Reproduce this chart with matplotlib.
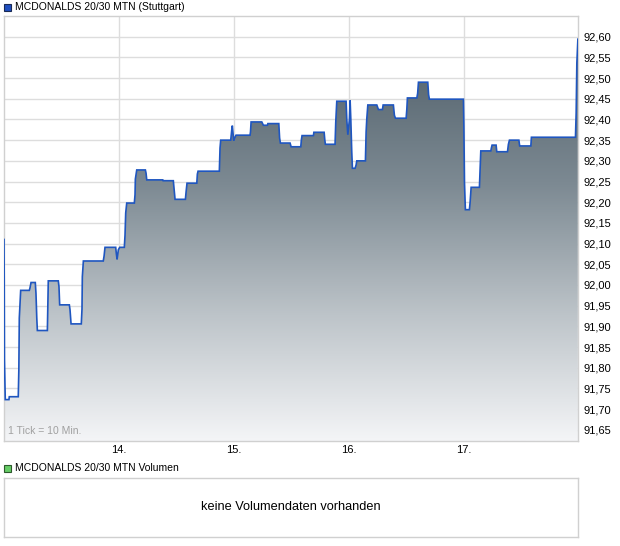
import numpy as np
import matplotlib
matplotlib.use("Agg")
from matplotlib import pyplot as plt
from matplotlib.colors import LinearSegmentedColormap
from matplotlib.patches import Rectangle

plt.rcParams['font.family'] = ['Liberation Sans', 'DejaVu Sans']

## price data (x in days of month, value in EUR) ---------
days = [13.000, 13.002, 13.004, 13.011, 13.043, 13.046, 13.124, 13.129, 13.133, 13.145,
        13.220, 13.226, 13.235, 13.272, 13.278, 13.285, 13.290, 13.377, 13.381, 13.385,
        13.472, 13.478, 13.484, 13.568, 13.574, 13.583, 13.672, 13.678, 13.681, 13.690,
        13.863, 13.870, 13.878, 13.971, 13.977, 13.983, 13.994, 14.006, 14.046, 14.052,
        14.058, 14.067, 14.133, 14.139, 14.142, 14.154, 14.229, 14.235, 14.241, 14.380,
        14.383, 14.472, 14.478, 14.487, 14.577, 14.583, 14.591, 14.676, 14.681, 14.687,
        14.872, 14.878, 14.884, 14.971, 14.980, 14.985, 14.997, 15.006, 15.017, 15.139,
        15.143, 15.148, 15.241, 15.255, 15.290, 15.294, 15.389, 15.396, 15.403, 15.487,
        15.496, 15.580, 15.585, 15.591, 15.690, 15.694, 15.783, 15.789, 15.794, 15.878,
        15.884, 15.893, 15.974, 15.980, 15.989, 16.003, 16.009, 16.015, 16.023, 16.029,
        16.052, 16.061, 16.067, 16.142, 16.148, 16.154, 16.163, 16.241, 16.255, 16.290,
        16.296, 16.385, 16.394, 16.403, 16.496, 16.502, 16.507, 16.589, 16.596, 16.603,
        16.684, 16.691, 16.698, 16.994, 16.998, 17.003, 17.011, 17.046, 17.052, 17.061,
        17.133, 17.139, 17.145, 17.232, 17.237, 17.243, 17.278, 17.284, 17.377, 17.385,
        17.394, 17.476, 17.483, 17.580, 17.585, 17.968, 17.974, 17.980, 17.989]
prices = [92.110, 92.010, 91.820, 91.723, 91.723, 91.730, 91.730, 91.795, 91.920, 91.987,
          91.987, 91.993, 92.006, 92.006, 91.980, 91.920, 91.890, 91.890, 91.950, 92.010,
          92.010, 91.996, 91.952, 91.952, 91.940, 91.906, 91.906, 91.942, 92.020, 92.058,
          92.058, 92.070, 92.091, 92.091, 92.075, 92.062, 92.085, 92.091, 92.091, 92.120,
          92.174, 92.198, 92.198, 92.218, 92.256, 92.278, 92.278, 92.270, 92.254, 92.254,
          92.252, 92.252, 92.235, 92.207, 92.207, 92.225, 92.246, 92.246, 92.268, 92.275,
          92.275, 92.331, 92.350, 92.350, 92.375, 92.385, 92.349, 92.356, 92.362, 92.362,
          92.370, 92.394, 92.394, 92.386, 92.386, 92.390, 92.390, 92.355, 92.343, 92.343,
          92.334, 92.334, 92.350, 92.361, 92.361, 92.369, 92.369, 92.350, 92.340, 92.340,
          92.393, 92.444, 92.444, 92.400, 92.363, 92.400, 92.446, 92.400, 92.323, 92.282,
          92.282, 92.290, 92.300, 92.300, 92.370, 92.402, 92.435, 92.435, 92.424, 92.424,
          92.435, 92.435, 92.410, 92.403, 92.403, 92.425, 92.452, 92.452, 92.463, 92.490,
          92.490, 92.460, 92.449, 92.449, 92.383, 92.248, 92.182, 92.182, 92.200, 92.236,
          92.236, 92.280, 92.324, 92.324, 92.331, 92.338, 92.338, 92.322, 92.322, 92.340,
          92.350, 92.350, 92.336, 92.336, 92.357, 92.357, 92.416, 92.536, 92.594]

day_ticks = [14, 15, 16, 17]
day_labels = ['14.', '15.', '16.', '17.']
price_ticks = np.round(np.arange(91.65, 92.601, 0.05), 2)

title = 'MCDONALDS 20/30 MTN (Stuttgart)'
vol_title = 'MCDONALDS 20/30 MTN Volumen'
vol_text = 'keine Volumendaten vorhanden'

W, H = 620, 546
fig = plt.figure(figsize=(W / 100, H / 100), dpi=100)

def px_axes(x0, y0, x1, y1):
    return fig.add_axes([x0 / W, 1 - y1 / H, (x1 - x0) / W, (y1 - y0) / H])

grid_c = '#dddddd'
line_c = '#1f56c0'

## main chart ---------
ax = px_axes(4, 16, 578, 441)
xmin, xmax = 13.0, 17.99
ymin, ymax = 91.623, 92.65
ax.set_xlim(xmin, xmax)
ax.set_ylim(ymin, ymax)

for t in price_ticks:
    ax.axhline(t, color=grid_c, lw=1, zorder=0)
for t in day_ticks:
    ax.axvline(t, color=grid_c, lw=1, zorder=0)

x = np.array(days)
y = np.array(prices)
poly = ax.fill_between(x, y, ymin, color='none', lw=0)
cmap = LinearSegmentedColormap.from_list('g', ['#f4f5f7', '#bcc3c8', '#7d8a93', '#55646e'])
grad = np.linspace(0, 1, 256).reshape(-1, 1)
img = ax.imshow(grad, extent=[xmin, xmax, ymin, 92.55], origin='lower', aspect='auto',
                cmap=cmap, zorder=1)
img.set_clip_path(poly.get_paths()[0], transform=ax.transData)
ax.plot(x, y, color=line_c, lw=1.2, zorder=3, solid_joinstyle='miter')

ax.yaxis.tick_right()
ax.set_yticks(price_ticks)
ax.set_yticklabels([f'{v:.2f}'.replace('.', ',') for v in price_ticks], fontsize=8)
ax.set_xticks(day_ticks)
ax.set_xticklabels(day_labels, fontsize=8)
ax.tick_params(length=0, pad=4)
ax.tick_params(axis='x', pad=3)
for s in ax.spines.values():
    s.set_color('#d0d0d0')
    s.set_linewidth(1)
ax.set_ylim(ymin, ymax)

ax.text(0.007, 0.012, '1 Tick = 10 Min.', transform=ax.transAxes, fontsize=7.5,
        color='#a0a0a0', ha='left', va='bottom', zorder=5)

## headers ---------
fig.patches.append(Rectangle((4 / W, 1 - 10.5 / H), 7 / W, 7 / H, transform=fig.transFigure,
                             facecolor='#1f4fbf', edgecolor='#1a2a55', lw=0.8))
fig.text(15 / W, 1 - 6.5 / H, title, fontsize=7.5, va='center', ha='left', color='#000000')

fig.patches.append(Rectangle((4 / W, 1 - 471.5 / H), 7 / W, 7 / H, transform=fig.transFigure,
                             facecolor='#66cc66', edgecolor='#2d5a2d', lw=0.8))
fig.text(15 / W, 1 - 468 / H, vol_title, fontsize=7.5, va='center', ha='left', color='#000000')

## volume panel ---------
vax = px_axes(4, 478, 578, 537)
vax.set_xticks([])
vax.set_yticks([])
for s in vax.spines.values():
    s.set_color('#d0d0d0')
    s.set_linewidth(1)
vax.text(0.5, 0.5, vol_text, transform=vax.transAxes, fontsize=9.2, ha='center', va='center')

plt.savefig('out.png', dpi=100)
